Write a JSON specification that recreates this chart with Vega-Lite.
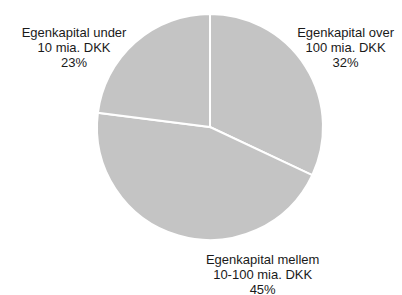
{
  "$schema": "https://vega.github.io/schema/vega-lite/v6.json",
  "width": 226,
  "height": 226,
  "autosize": {"type": "none"},
  "padding": {"left": 97, "top": 14, "right": 79, "bottom": 55},
  "background": "white",
  "config": {"view": {"stroke": null}},
  "data": {
    "values": [
      {"k": "over", "label": "Egenkapital over\n100 mia. DKK\n32%", "value": 32},
      {"k": "mellem", "label": "Egenkapital mellem\n10-100 mia. DKK\n45%", "value": 45},
      {"k": "under", "label": "Egenkapital under\n10 mia. DKK\n23%", "value": 23}
    ]
  },
  "transform": [
    {"stack": "value", "groupby": [], "as": ["v0", "v1"]}
  ],
  "layer": [
    {
      "mark": {"type": "arc", "outerRadius": 113, "fill": "#c4c4c4", "stroke": "white", "strokeWidth": 2},
      "encoding": {
        "theta": {"field": "v0", "type": "quantitative", "stack": null, "scale": {"domain": [0, 100]}},
        "theta2": {"field": "v1"}
      }
    },
    {
      "transform": [{"filter": "datum.k == 'over'"}],
      "mark": {"type": "text", "radius": 157, "thetaOffset": 1.042, "dy": -15, "lineBreak": "\n", "lineHeight": 15, "font": "Liberation Sans", "fontSize": 13, "fill": "#1a1a1a", "align": "center", "baseline": "middle"},
      "encoding": {
        "theta": {"field": "v0", "type": "quantitative", "stack": null},
        "text": {"field": "label"}
      }
    },
    {
      "transform": [{"filter": "datum.k == 'mellem'"}],
      "mark": {"type": "text", "radius": 157, "thetaOffset": 0.789, "dy": -15, "lineBreak": "\n", "lineHeight": 15, "font": "Liberation Sans", "fontSize": 13, "fill": "#1a1a1a", "align": "center", "baseline": "middle"},
      "encoding": {
        "theta": {"field": "v0", "type": "quantitative", "stack": null},
        "text": {"field": "label"}
      }
    },
    {
      "transform": [{"filter": "datum.k == 'under'"}],
      "mark": {"type": "text", "radius": 157, "thetaOffset": 0.398, "dy": -15, "lineBreak": "\n", "lineHeight": 15, "font": "Liberation Sans", "fontSize": 13, "fill": "#1a1a1a", "align": "center", "baseline": "middle"},
      "encoding": {
        "theta": {"field": "v0", "type": "quantitative", "stack": null},
        "text": {"field": "label"}
      }
    }
  ]
}
